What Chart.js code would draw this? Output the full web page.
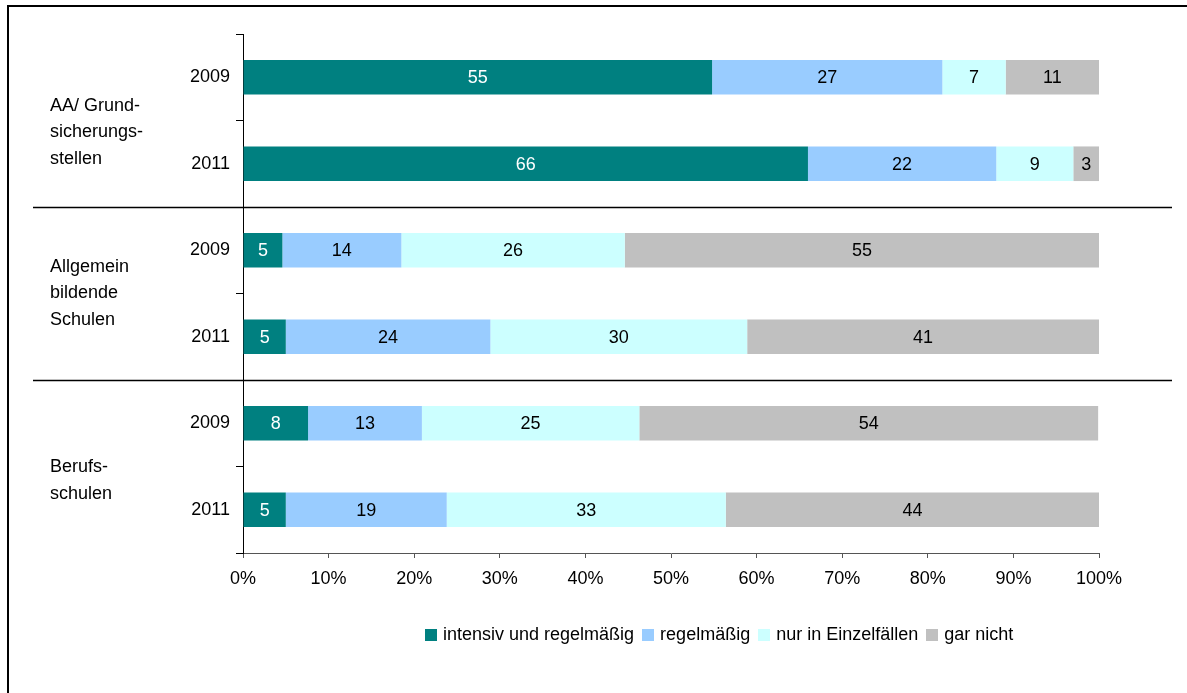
<!DOCTYPE html>
<html>
<head>
<meta charset="utf-8">
<script src="https://cdn.jsdelivr.net/npm/chart.js@4/dist/chart.umd.min.js"></script>
<style>
  html, body { margin: 0; padding: 0; background: #fff; }
  #wrap { position: absolute; left: 0; top: 0; width: 1187px; height: 693px; }
  #legend { position: absolute; left: 425px; top: 624px; display: flex; align-items: center;
            font-family: "Liberation Sans", Arial, sans-serif; font-size: 18px; color: #000; white-space: nowrap; }
  #legend .item { display: flex; align-items: center; margin-right: 8px; }
  #legend .box { width: 12px; height: 12px; margin-right: 6px; }
</style>
</head>
<body>
<div id="wrap">
  <canvas id="c" width="1187" height="693"></canvas>
  <div id="legend"></div>
</div>
<script>
// ---- data ----
const categories = ['2009', '2011', '2009', '2011', '2009', '2011'];
const groupLabels = [
  ['AA/ Grund-', 'sicherungs-', 'stellen'],
  ['Allgemein', 'bildende', 'Schulen'],
  ['Berufs-', 'schulen']
];
const seriesNames = ['intensiv und regelmäßig', 'regelmäßig', 'nur in Einzelfällen', 'gar nicht'];
const intensiv     = [54.8, 66.0, 4.6, 5.0, 7.6, 5.0];
const regelmaessig = [26.9, 22.0, 13.9, 23.9, 13.3, 18.8];
const einzelfaelle = [7.4, 9.0, 26.1, 30.0, 25.4, 32.6];
const garNicht     = [10.9, 3.0, 55.4, 41.1, 53.6, 43.6];
const xTicks = [0, 10, 20, 30, 40, 50, 60, 70, 80, 90, 100];

// ---- styles ----
const colors = ['#008080', '#99CCFF', '#CCFFFF', '#C0C0C0'];
const labelColors = ['#ffffff', '#000000', '#000000', '#000000'];
const groupOffsets = [12, 0, 14];
const FONT = '"Liberation Sans", Arial, sans-serif';

Chart.defaults.font.family = FONT;
Chart.defaults.font.size = 18;
Chart.defaults.color = '#000';

const seriesData = [intensiv, regelmaessig, einzelfaelle, garNicht];

const framePlugin = {
  id: 'frame',
  afterDraw(chart) {
    const ctx = chart.ctx;
    const y = chart.scales.y;
    const area = chart.chartArea;
    ctx.save();
    // outer frame (left + top)
    ctx.strokeStyle = '#000';
    ctx.lineWidth = 2;
    ctx.beginPath();
    ctx.moveTo(8, 693);
    ctx.lineTo(8, 6);
    ctx.lineTo(1187, 6);
    ctx.stroke();
    // group separators
    ctx.lineWidth = 1.5;
    for (let g = 1; g < groupLabels.length; g++) {
      const yy = Math.round((y.getPixelForValue(2 * g - 1) + y.getPixelForValue(2 * g)) / 2) + 0.5;
      ctx.beginPath();
      ctx.moveTo(33, yy);
      ctx.lineTo(area.right + 73, yy);
      ctx.stroke();
    }
    // group labels
    ctx.fillStyle = '#000';
    ctx.font = '18px ' + FONT;
    ctx.textAlign = 'left';
    ctx.textBaseline = 'middle';
    groupLabels.forEach((lines, g) => {
      const c = (y.getPixelForValue(2 * g) + y.getPixelForValue(2 * g + 1)) / 2 + groupOffsets[g];
      lines.forEach((t, i) => {
        ctx.fillText(t, 50, c + (i - (lines.length - 1) / 2) * 26.5);
      });
    });
    // value labels
    ctx.textAlign = 'center';
    chart.data.datasets.forEach((ds, di) => {
      const meta = chart.getDatasetMeta(di);
      meta.data.forEach((bar, i) => {
        const v = ds.data[i];
        const cx = (bar.x + bar.base) / 2;
        ctx.fillStyle = labelColors[di];
        ctx.fillText(String(Math.round(v)), cx, bar.y + 1);
      });
    });
    ctx.restore();
  }
};

const chart = new Chart(document.getElementById('c'), {
  type: 'bar',
  data: {
    labels: categories,
    datasets: seriesNames.map((n, i) => ({
      label: n,
      data: seriesData[i],
      backgroundColor: colors[i],
      borderWidth: 0,
      categoryPercentage: 1.0,
      barPercentage: 0.4
    }))
  },
  options: {
    indexAxis: 'y',
    responsive: false,
    animation: false,
    layout: { padding: { left: 0, top: 34, right: 88, bottom: 100 } },
    plugins: { legend: { display: false }, tooltip: { enabled: false } },
    scales: {
      x: {
        stacked: true,
        min: 0, max: 100,
        afterBuildTicks: s => { s.ticks = xTicks.map(v => ({ value: v })); },
        afterFit: s => { s.height = 40; },
        ticks: { padding: 10, callback: v => v + '%', font: { size: 18 }, color: '#000', maxRotation: 0 },
        grid: { drawOnChartArea: false, drawTicks: true, tickLength: 5, color: '#555', lineWidth: 1 },
        border: { display: true, color: '#555', width: 1 }
      },
      y: {
        stacked: true,
        afterFit: s => { s.width = 243; },
        ticks: { padding: 6, font: { size: 18 }, color: '#000' },
        grid: { drawOnChartArea: false, drawTicks: true, tickLength: 7, color: '#000', lineWidth: 1, offset: true },
        border: { display: true, color: '#000', width: 1 }
      }
    }
  },
  plugins: [framePlugin]
});

// HTML legend
const leg = document.getElementById('legend');
seriesNames.forEach((n, i) => {
  const it = document.createElement('div');
  it.className = 'item';
  const b = document.createElement('div');
  b.className = 'box';
  b.style.background = colors[i];
  const t = document.createElement('span');
  t.textContent = n;
  it.appendChild(b); it.appendChild(t);
  leg.appendChild(it);
});
</script>
</body>
</html>
